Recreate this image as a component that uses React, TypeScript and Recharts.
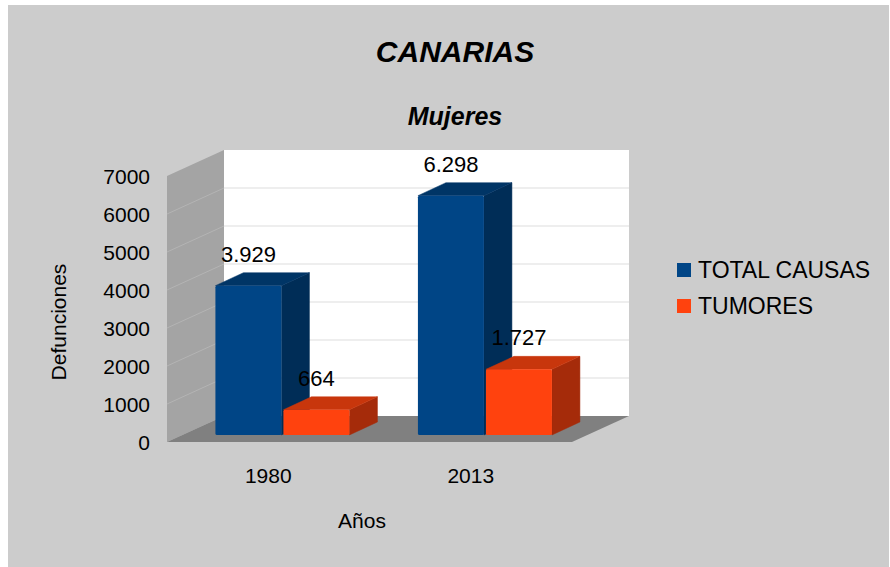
import React from 'react';
import { BarChart, Bar, XAxis, YAxis, Legend, LabelList, ReferenceArea, ReferenceLine } from 'recharts';

const categories = ['1980', '2013'];
const totalCausas = [3929, 6298];
const tumores = [664, 1727];
const yTicks = [0, 1000, 2000, 3000, 4000, 5000, 6000, 7000];
const gridValues = [1000, 2000, 3000, 4000, 5000, 6000];

const data = categories.map((c, i) => ({ year: c, total: totalCausas[i], tumores: tumores[i] }));

const FONT = '"Liberation Sans", Arial, sans-serif';
const WALL_DX = 57;
const WALL_DY = 26;
const BAR_OX = 14;
const BAR_OY = 7;
const BAR_DX = 28;
const BAR_DY = 13;

const fmt = (v: number) => String(v).replace(/\B(?=(\d{3})+(?!\d))/g, '.');

const makeBox = (front: string, top: string, side: string) => (props: any) => {
  const { x, y, width, height } = props;
  if (x == null || y == null || !width || height == null) return null;
  const fx = x + BAR_OX;
  const fy = y - BAR_OY;
  const w = width;
  const h = height;
  const topPts = `${fx},${fy} ${fx + BAR_DX},${fy - BAR_DY} ${fx + w + BAR_DX},${fy - BAR_DY} ${fx + w},${fy}`;
  const sidePts = `${fx + w},${fy} ${fx + w + BAR_DX},${fy - BAR_DY} ${fx + w + BAR_DX},${fy + h - BAR_DY} ${fx + w},${fy + h}`;
  return (
    <g>
      <polygon points={sidePts} fill={side} stroke={side} strokeWidth={0.5} strokeLinejoin="round" />
      <polygon points={topPts} fill={top} stroke={top} strokeWidth={0.5} strokeLinejoin="round" />
      <rect x={fx} y={fy} width={w} height={h} fill={front} rx={1.5} />
    </g>
  );
};

const BlueBox = makeBox('#004586', '#003566', '#002d57');
const OrangeBox = makeBox('#ff420e', '#c8360c', '#a52b0a');

const Walls = (props: any) => {
  const { x, y, width, height } = props;
  if (x == null) return null;
  const w = width;
  const h = height;
  const left = `${x},${y} ${x + WALL_DX},${y - WALL_DY} ${x + WALL_DX},${y + h - WALL_DY} ${x},${y + h}`;
  const floor = `${x},${y + h} ${x + WALL_DX},${y + h - WALL_DY} ${x + w + WALL_DX},${y + h - WALL_DY} ${x + w},${y + h}`;
  return (
    <g>
      <rect x={x + WALL_DX} y={y - WALL_DY} width={w} height={h} fill="#ffffff" />
      <polygon points={left} fill="#a4a4a4" />
      <polygon points={floor} fill="#808080" />
    </g>
  );
};

const GridLine = (props: any) => {
  const { x1, y1, x2, y2 } = props;
  if (x1 == null || y1 == null) return null;
  return (
    <g>
      <line x1={x1 + WALL_DX} y1={y1 - WALL_DY} x2={x2 + WALL_DX} y2={y2 - WALL_DY} stroke="#dedede" strokeWidth={1.2} />
      <line x1={x1} y1={y1} x2={x1 + WALL_DX} y2={y1 - WALL_DY} stroke="#b4b4b4" strokeWidth={1} />
    </g>
  );
};

const renderValue = (props: any) => {
  const { x, y, width, value } = props;
  if (x == null) return null;
  return (
    <text
      x={x + BAR_OX + width / 2}
      y={y - BAR_OY - BAR_DY - 11}
      textAnchor="middle"
      fontFamily={FONT}
      fontSize={22}
      fill="#000"
    >
      {fmt(value)}
    </text>
  );
};

const renderLegend = (props: any) => {
  const { payload } = props;
  return (
    <div style={{ fontFamily: FONT, fontSize: 23, color: '#000' }}>
      {(payload || []).map((entry: any, i: number) => (
        <div key={i} style={{ display: 'flex', alignItems: 'center', height: 36, lineHeight: '36px', whiteSpace: 'nowrap' }}>
          <span style={{ display: 'inline-block', width: 14, height: 14, background: entry.color, marginRight: 7 }} />
          <span>{entry.value}</span>
        </div>
      ))}
    </div>
  );
};

export default function App() {
  return (
    <div style={{ position: 'absolute', left: 0, top: 0, width: 890, height: 567, overflow: 'hidden' }}>
      <div style={{ position: 'absolute', left: 8, top: 5, width: 881, height: 562, background: '#cccccc' }} />
      <div style={{ position: 'absolute', left: 0, top: 0 }}>
        <BarChart
          width={890}
          height={567}
          data={data}
          margin={{ top: 176, right: 318, bottom: 65, left: 107 }}
          barCategoryGap="17%"
          barGap={2}
        >
          <XAxis
            dataKey="year"
            axisLine={false}
            tickLine={false}
            tickSize={0}
            tickMargin={26}
            height={60}
            tick={{ fill: '#000', fontSize: 21, fontFamily: FONT }}
          />
          <YAxis
            domain={[0, 7000]}
            ticks={yTicks}
            interval={0}
            axisLine={false}
            tickLine={false}
            tickSize={0}
            tickMargin={17}
            width={60}
            tick={{ fill: '#000', fontSize: 21, fontFamily: FONT, dy: 1 }}
          />
          <ReferenceArea y1={0} y2={7000} shape={Walls} zIndex={-200} ifOverflow="visible" />
          {gridValues.map((v) => (
            <ReferenceLine key={v} y={v} shape={GridLine} zIndex={-150} ifOverflow="visible" />
          ))}
          <Bar dataKey="total" name="TOTAL CAUSAS" fill="#004586" shape={BlueBox} isAnimationActive={false}>
            <LabelList dataKey="total" content={renderValue} />
          </Bar>
          <Bar dataKey="tumores" name="TUMORES" fill="#ff420e" shape={OrangeBox} isAnimationActive={false}>
            <LabelList dataKey="tumores" content={renderValue} />
          </Bar>
          <Legend
            layout="vertical"
            align="center"
            verticalAlign="middle"
            content={renderLegend}
            wrapperStyle={{ position: 'absolute', left: 677, top: 252, width: 210, height: 72 }}
          />
        </BarChart>
      </div>
      <svg width={890} height={567} style={{ position: 'absolute', left: 0, top: 0, pointerEvents: 'none' }}>
        <text x={455} y={62} textAnchor="middle" fontFamily={FONT} fontSize={30} fontWeight="bold" fontStyle="italic" fill="#000">
          CANARIAS
        </text>
        <text x={455} y={125} textAnchor="middle" fontFamily={FONT} fontSize={25} fontWeight="bold" fontStyle="italic" fill="#000">
          Mujeres
        </text>
        <text x={362} y={528} textAnchor="middle" fontFamily={FONT} fontSize={21} fill="#000">
          Años
        </text>
        <text x={66} y={322} textAnchor="middle" fontFamily={FONT} fontSize={21} fill="#000" transform="rotate(-90 66 322)">
          Defunciones
        </text>
      </svg>
    </div>
  );
}
